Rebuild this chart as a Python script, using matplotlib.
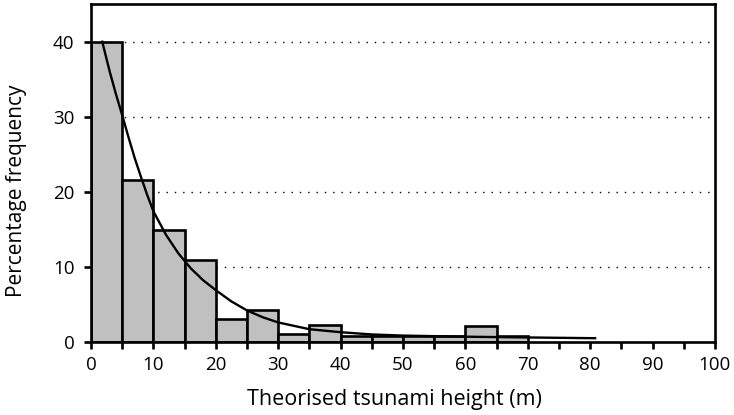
import matplotlib.pyplot as plt
import numpy as np

# histogram bins (left edges, width 5 m) and percentage frequency
bin_left = [0, 5, 10, 15, 20, 25, 30, 35, 40, 45, 50, 55, 60, 65]
freq = [40.0, 21.6, 14.9, 10.9, 3.1, 4.3, 1.1, 2.2, 0.85, 0.85, 0.85, 0.85, 2.1, 0.85]

# fitted curve
curve_x = [1.8, 3, 4, 5, 6, 7, 8, 9, 10, 12, 14, 16, 18, 20, 22.5, 25, 27.5,
           30, 35, 40, 45, 50, 60, 70, 80.8]
curve_y = [40, 36, 33, 30.2, 27.3, 24.5, 22, 19.6, 17.4, 14.3, 11.8, 9.8, 8.2,
           6.9, 5.4, 4.2, 3.3, 2.6, 1.7, 1.3, 1.0, 0.85, 0.7, 0.6, 0.5]

plt.rcParams['font.family'] = ['Open Sans', 'DejaVu Sans']

fig = plt.figure(figsize=(7.34, 4.15), dpi=100)
ax = fig.add_axes([0.124, 0.176, 0.850, 0.814])

ax.bar(bin_left, freq, width=5, align='edge', color='#c0c0c0',
       edgecolor='black', linewidth=1.9, zorder=2)
ax.plot(curve_x, curve_y, '-', color='black', linewidth=1.7, zorder=3)

ax.set_xlim(0, 100)
ax.set_ylim(0, 45)
ax.set_xticks(np.arange(0, 101, 10))
ax.set_xticks(np.arange(5, 100, 10), minor=True)
ax.set_yticks([0, 10, 20, 30, 40])

for y in [10, 20, 30, 40]:
    ax.axhline(y, color='black', linewidth=1, linestyle=(0, (1, 5)), zorder=1)

for s in ax.spines.values():
    s.set_linewidth(1.9)

ax.tick_params(axis='both', which='both', direction='out', length=5, width=1.9,
               labelsize=13.5)
ax.tick_params(axis='x', which='major', pad=5)
ax.tick_params(axis='y', which='major', pad=7)

ax.set_xlabel('Theorised tsunami height (m)', fontsize=15.5)
ax.set_ylabel('Percentage frequency', fontsize=15)
ax.xaxis.set_label_coords(0.486, -0.138)
ax.yaxis.set_label_coords(-0.103, 0.447)

fig.savefig('out.png', dpi=100)
